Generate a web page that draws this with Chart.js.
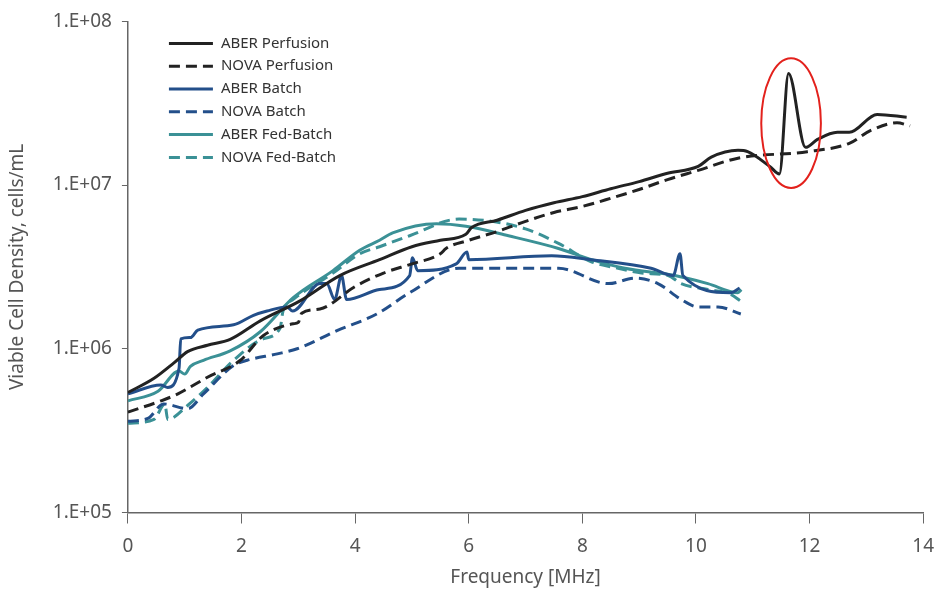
<!DOCTYPE html>
<html>
<head>
<meta charset="utf-8">
<script src="https://cdn.jsdelivr.net/npm/chart.js@4.4.1/dist/chart.umd.min.js"></script>
<style>
  body { margin: 0; background: #fff; }
  #wrap { width: 937px; height: 593px; }
</style>
</head>
<body>
<div id="wrap"><canvas id="vcd" width="937" height="593"></canvas></div>
<script>
// values (frequency in MHz, density in cells/mL)
const aberPerfusionX = [0, 0.46, 0.81, 1.05, 1.4, 1.8, 2.33, 3.03, 3.73, 4.43, 5.0, 5.5, 5.95, 6.05, 6.5, 7.0, 7.5, 8.0, 8.5, 9.0, 9.5, 10.04, 10.27, 10.74, 10.91, 11.3, 11.47, 11.63, 11.93, 12.14, 12.49, 12.7, 13.19, 13.71];
const aberPerfusionY = [5.4e5, 6.6e5, 8.2e5, 9.6e5, 1.05e6, 1.14e6, 1.48e6, 1.96e6, 2.8e6, 3.5e6, 4.2e6, 4.6e6, 5.0e6, 5.5e6, 6.1e6, 7.0e6, 7.8e6, 8.5e6, 9.5e6, 1.05e7, 1.18e7, 1.3e7, 1.48e7, 1.63e7, 1.6e7, 1.3e7, 1.17e7, 4.8e7, 1.7e7, 1.9e7, 2.1e7, 2.1e7, 2.7e7, 2.6e7];

const novaPerfusionX = [0, 0.58, 0.88, 1.4, 1.98, 2.38, 2.91, 3.0, 3.06, 3.38, 4.0, 4.5, 5.0, 5.5, 5.6, 6.0, 6.5, 7.0, 7.5, 8.0, 8.5, 9.0, 9.5, 10.04, 10.74, 11.96, 12.7, 13.07, 13.54, 13.77];
const novaPerfusionY = [4.1e5, 4.8e5, 5.3e5, 6.7e5, 8.5e5, 1.2e6, 1.42e6, 1.45e6, 1.65e6, 1.75e6, 2.4e6, 2.9e6, 3.3e6, 3.8e6, 4.1e6, 4.6e6, 5.2e6, 6.0e6, 6.8e6, 7.4e6, 8.3e6, 9.4e6, 1.08e7, 1.23e7, 1.46e7, 1.6e7, 1.8e7, 2.15e7, 2.4e7, 2.3e7];

const aberBatchX = [0, 0.58, 0.7, 0.9, 0.93, 1.1, 1.23, 1.86, 2.21, 2.45, 2.8, 2.9, 3.38, 3.5, 3.64, 3.76, 3.85, 4.43, 4.96, 5.01, 5.1, 5.78, 5.97, 6.0, 7.46, 8.16, 9.21, 9.6, 9.72, 9.77, 10.61, 10.77];
const aberBatchY = [5.3e5, 6.0e5, 5.8e5, 7.6e5, 1.15e6, 1.17e6, 1.3e6, 1.4e6, 1.6e6, 1.7e6, 1.8e6, 1.7e6, 2.5e6, 2.5e6, 2.0e6, 2.8e6, 2.0e6, 2.3e6, 2.8e6, 3.6e6, 3.0e6, 3.3e6, 3.9e6, 3.5e6, 3.7e6, 3.5e6, 3.1e6, 2.8e6, 3.8e6, 2.8e6, 2.2e6, 2.35e6];

const novaBatchX = [0, 0.35, 0.63, 1.05, 1.33, 1.86, 2.1, 2.63, 2.98, 3.68, 4.38, 4.96, 5.83, 6.7, 7.58, 8.46, 8.93, 9.33, 9.74, 10.04, 10.39, 10.79];
const novaBatchY = [3.6e5, 3.75e5, 4.6e5, 4.3e5, 5.3e5, 7.9e5, 8.5e5, 9.3e5, 1.0e6, 1.29e6, 1.63e6, 2.2e6, 3.1e6, 3.1e6, 3.1e6, 2.5e6, 2.7e6, 2.5e6, 2.0e6, 1.8e6, 1.8e6, 1.63e6];

const aberFedX = [0, 0.53, 0.9, 1.0, 1.1, 1.33, 1.8, 2.33, 2.91, 3.61, 4.08, 4.43, 4.66, 5.43, 5.95, 6.7, 7.58, 8.16, 8.75, 9.63, 10.21, 10.74, 10.8];
const aberFedY = [4.8e5, 5.5e5, 7.3e5, 7.0e5, 7.8e5, 8.5e5, 9.7e5, 1.27e6, 2.05e6, 3.0e6, 4.0e6, 4.6e6, 5.1e6, 5.8e6, 5.6e6, 4.9e6, 4.1e6, 3.5e6, 3.1e6, 2.8e6, 2.5e6, 2.2e6, 2.3e6];

const novaFedX = [0, 0.46, 0.65, 0.7, 1.05, 1.4, 1.86, 2.38, 2.68, 2.73, 2.91, 3.61, 4.08, 4.43, 4.96, 5.83, 6.41, 7.0, 7.58, 8.16, 8.63, 9.04, 9.51, 9.74, 10.21, 10.61, 10.79];
const novaFedY = [3.5e5, 3.7e5, 4.6e5, 3.7e5, 4.5e5, 5.8e5, 8.5e5, 1.15e6, 1.34e6, 1.7e6, 2.0e6, 2.9e6, 3.8e6, 4.2e6, 4.9e6, 6.2e6, 6.0e6, 5.4e6, 4.4e6, 3.4e6, 3.1e6, 2.9e6, 2.8e6, 2.5e6, 2.3e6, 2.15e6, 1.95e6];

const seriesNames = ['ABER Perfusion', 'NOVA Perfusion', 'ABER Batch', 'NOVA Batch', 'ABER Fed-Batch', 'NOVA Fed-Batch'];
const xTicks = [0, 2, 4, 6, 8, 10, 12, 14];
const yTicks = [1e5, 1e6, 1e7, 1e8];
// red ellipse round the spike: [xMin, xMax, yMin, yMax] in data units
const spikeBox = [11.15, 12.2, 9.6e6, 5.95e7];

const BLACK = '#222222';
const BLUE = '#234f8a';
const TEAL = '#3b9196';
const DASH = [11, 6];
const FONT = '"Noto Sans", sans-serif';

function pts(xs, ys) {
    return xs.map((x, i) => ({ x: x, y: ys[i] }));
}

function makeSet(label, xs, ys, color, dashed) {
    return {
        label: label,
        data: pts(xs, ys),
        borderColor: color,
        backgroundColor: color,
        borderWidth: 3,
        borderDash: dashed ? DASH : [],
        pointRadius: 0,
        cubicInterpolationMode: 'monotone',
        fill: false
    };
}

// legend drawn inside the plot, top-left
const innerLegend = {
    id: 'innerLegend',
    afterDraw(chart) {
        const ctx = chart.ctx;
        const area = chart.chartArea;
        const x0 = area.left + 41;
        let y = area.top + 22;
        ctx.save();
        ctx.font = '15px ' + FONT;
        ctx.textBaseline = 'middle';
        chart.data.datasets.forEach(ds => {
            ctx.strokeStyle = ds.borderColor;
            ctx.lineWidth = 3;
            ctx.setLineDash(ds.borderDash);
            ctx.beginPath();
            ctx.moveTo(x0, y);
            ctx.lineTo(x0 + 44, y);
            ctx.stroke();
            ctx.setLineDash([]);
            ctx.fillStyle = '#333';
            ctx.fillText(ds.label, x0 + 52, y);
            y += 22.8;
        });
        ctx.restore();
    }
};

const spikeEllipse = {
    id: 'spikeEllipse',
    afterDatasetsDraw(chart) {
        const xs = chart.scales.x;
        const ys = chart.scales.y;
        const left = xs.getPixelForValue(spikeBox[0]);
        const right = xs.getPixelForValue(spikeBox[1]);
        const bottom = ys.getPixelForValue(spikeBox[2]);
        const top = ys.getPixelForValue(spikeBox[3]);
        const ctx = chart.ctx;
        ctx.save();
        ctx.strokeStyle = '#e3211c';
        ctx.lineWidth = 2;
        ctx.beginPath();
        ctx.ellipse((left + right) / 2, (top + bottom) / 2, (right - left) / 2, (bottom - top) / 2, 0, 0, Math.PI * 2);
        ctx.stroke();
        ctx.restore();
    }
};

const ctx = document.getElementById('vcd').getContext('2d');
new Chart(ctx, {
    type: 'line',
    data: {
        datasets: [
            makeSet(seriesNames[0], aberPerfusionX, aberPerfusionY, BLACK, false),
            makeSet(seriesNames[1], novaPerfusionX, novaPerfusionY, BLACK, true),
            makeSet(seriesNames[2], aberBatchX, aberBatchY, BLUE, false),
            makeSet(seriesNames[3], novaBatchX, novaBatchY, BLUE, true),
            makeSet(seriesNames[4], aberFedX, aberFedY, TEAL, false),
            makeSet(seriesNames[5], novaFedX, novaFedY, TEAL, true)
        ]
    },
    options: {
        responsive: false,
        animation: false,
        layout: { padding: { top: 17, right: 0, left: 6, bottom: 4 } },
        plugins: {
            legend: { display: false },
            tooltip: { enabled: false }
        },
        scales: {
            x: {
                type: 'linear',
                min: 0,
                max: 14,
                afterBuildTicks: scale => { scale.ticks = xTicks.map(v => ({ value: v })); },
                border: { color: '#666', width: 1.5 },
                // long tick slot for label spacing, but only the first 10px is drawn
                grid: { drawOnChartArea: false, drawTicks: true, tickLength: 20, tickBorderDash: [10, 40], color: '#666' },
                ticks: {
                    color: '#555',
                    font: { family: FONT, size: 19 },
                    padding: 3,
                    maxRotation: 0
                },
                title: {
                    display: true,
                    text: 'Frequency [MHz]',
                    color: '#555',
                    font: { family: FONT, size: 19 },
                    padding: { top: 5, bottom: 0 }
                }
            },
            y: {
                type: 'logarithmic',
                min: 1e5,
                max: 1e8,
                afterBuildTicks: scale => { scale.ticks = yTicks.map(v => ({ value: v })); },
                border: { color: '#666', width: 1.5 },
                grid: { drawOnChartArea: false, drawTicks: true, tickLength: 6, color: '#666' },
                ticks: {
                    color: '#555',
                    font: { family: FONT, size: 19 },
                    padding: 10,
                    callback: v => '1.E+0' + Math.round(Math.log10(v))
                },
                title: {
                    display: true,
                    text: 'Viable Cell Density, cells/mL',
                    color: '#555',
                    font: { family: FONT, size: 19 },
                    padding: { top: 0, bottom: 14 }
                }
            }
        }
    },
    plugins: [innerLegend, spikeEllipse]
});
</script>
</body>
</html>
